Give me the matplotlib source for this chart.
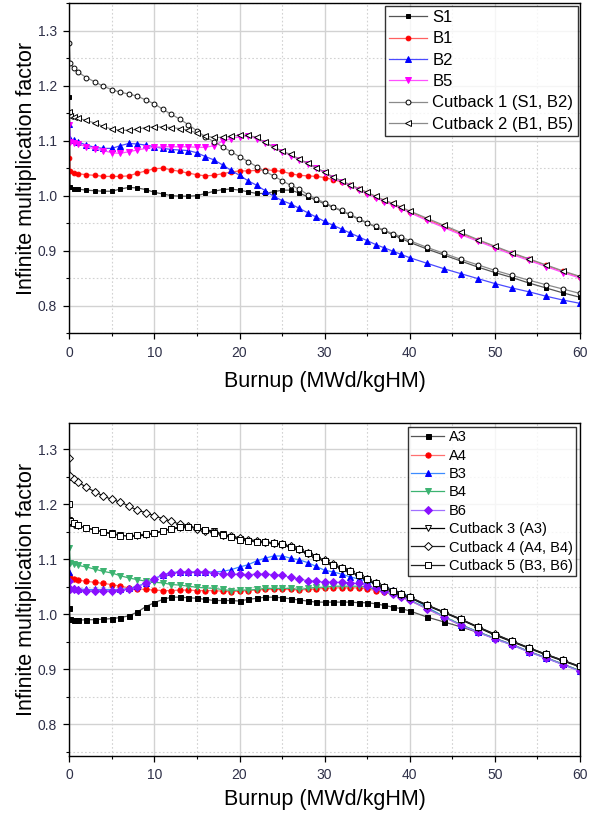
import matplotlib
matplotlib.use("Agg")
import matplotlib.pyplot as plt
from matplotlib.ticker import MultipleLocator

plt.rcParams["font.family"] = ["Liberation Sans", "DejaVu Sans"]

# burnup steps (MWd/kgHM)
burnup = [0, 0.1, 0.5, 1, 2, 3, 4, 5, 6, 7,
          8, 9, 10, 11, 12, 13, 14, 15, 16, 17,
          18, 19, 20, 21, 22, 23, 24, 25, 26, 27,
          28, 29, 30, 31, 32, 33, 34, 35, 36, 37,
          38, 39, 40, 42, 44, 46, 48, 50, 52, 54,
          56, 58, 60]

# ---- top panel ----
s1 = [1.180, 1.015, 1.013, 1.012, 1.010, 1.009, 1.008, 1.008, 1.012, 1.015,
      1.014, 1.011, 1.006, 1.003, 1.000, 0.999, 0.999, 1.000, 1.004, 1.008,
      1.011, 1.012, 1.010, 1.007, 1.004, 1.004, 1.007, 1.010, 1.010, 1.005,
      0.998, 0.992, 0.985, 0.979, 0.972, 0.965, 0.957, 0.950, 0.943, 0.936,
      0.929, 0.922, 0.915, 0.903, 0.892, 0.881, 0.870, 0.860, 0.851, 0.841,
      0.832, 0.823, 0.815]
b1 = [1.069, 1.044, 1.042, 1.040, 1.038, 1.037, 1.035, 1.035, 1.035, 1.036,
      1.041, 1.045, 1.049, 1.050, 1.047, 1.044, 1.041, 1.038, 1.036, 1.037,
      1.040, 1.043, 1.045, 1.045, 1.046, 1.047, 1.046, 1.044, 1.040, 1.037,
      1.036, 1.035, 1.033, 1.029, 1.025, 1.019, 1.013, 1.005, 0.998, 0.991,
      0.985, 0.978, 0.971, 0.957, 0.944, 0.931, 0.919, 0.907, 0.895, 0.884,
      0.873, 0.862, 0.852]
b2 = [1.131, 1.104, 1.101, 1.098, 1.092, 1.088, 1.086, 1.086, 1.091, 1.095,
      1.094, 1.092, 1.089, 1.086, 1.084, 1.083, 1.082, 1.078, 1.071, 1.065,
      1.056, 1.046, 1.037, 1.027, 1.019, 1.009, 0.999, 0.991, 0.985, 0.977,
      0.969, 0.961, 0.953, 0.946, 0.939, 0.932, 0.925, 0.918, 0.911, 0.905,
      0.899, 0.893, 0.887, 0.877, 0.867, 0.858, 0.849, 0.840, 0.832, 0.825,
      0.817, 0.810, 0.804]
b5 = [1.128, 1.098, 1.096, 1.094, 1.089, 1.085, 1.082, 1.078, 1.077, 1.080,
      1.083, 1.086, 1.088, 1.089, 1.089, 1.089, 1.089, 1.088, 1.088, 1.091,
      1.099, 1.104, 1.107, 1.108, 1.104, 1.096, 1.088, 1.080, 1.073, 1.065,
      1.058, 1.050, 1.041, 1.032, 1.025, 1.018, 1.011, 1.003, 0.996, 0.989,
      0.983, 0.976, 0.969, 0.955, 0.942, 0.929, 0.917, 0.905, 0.893, 0.882,
      0.871, 0.860, 0.850]
cutback1 = [1.277, 1.241, 1.232, 1.225, 1.215, 1.207, 1.199, 1.193, 1.188, 1.185,
            1.181, 1.174, 1.167, 1.157, 1.148, 1.139, 1.129, 1.118, 1.107, 1.098,
            1.089, 1.080, 1.071, 1.062, 1.053, 1.044, 1.036, 1.027, 1.019, 1.012,
            1.002, 0.994, 0.987, 0.980, 0.973, 0.966, 0.958, 0.951, 0.944, 0.937,
            0.931, 0.925, 0.918, 0.906, 0.895, 0.884, 0.874, 0.864, 0.855, 0.846,
            0.838, 0.830, 0.822]
cutback2 = [1.153, 1.145, 1.143, 1.141, 1.137, 1.132, 1.126, 1.121, 1.119, 1.119,
            1.121, 1.124, 1.125, 1.125, 1.124, 1.122, 1.119, 1.114, 1.108, 1.106,
            1.106, 1.108, 1.110, 1.110, 1.106, 1.097, 1.089, 1.081, 1.075, 1.067,
            1.059, 1.051, 1.043, 1.034, 1.027, 1.020, 1.013, 1.006, 0.999, 0.992,
            0.986, 0.979, 0.972, 0.959, 0.946, 0.933, 0.920, 0.908, 0.896, 0.885,
            0.874, 0.863, 0.853]

# ---- bottom panel ----
a3 = [1.012, 0.992, 0.989, 0.989, 0.990, 0.990, 0.991, 0.992, 0.994, 0.997,
      1.004, 1.014, 1.021, 1.027, 1.031, 1.031, 1.030, 1.029, 1.027, 1.025,
      1.025, 1.025, 1.024, 1.027, 1.029, 1.031, 1.031, 1.030, 1.028, 1.026,
      1.024, 1.022, 1.022, 1.022, 1.022, 1.022, 1.021, 1.021, 1.019, 1.016,
      1.013, 1.010, 1.006, 0.995, 0.986, 0.977, 0.967, 0.956, 0.945, 0.932,
      0.921, 0.909, 0.897]
a4 = [1.072, 1.066, 1.064, 1.062, 1.060, 1.058, 1.056, 1.054, 1.051, 1.048,
      1.046, 1.045, 1.044, 1.043, 1.043, 1.044, 1.044, 1.043, 1.043, 1.043,
      1.042, 1.041, 1.042, 1.043, 1.044, 1.045, 1.045, 1.045, 1.045, 1.044,
      1.045, 1.046, 1.047, 1.048, 1.048, 1.048, 1.048, 1.046, 1.043, 1.040,
      1.036, 1.031, 1.025, 1.010, 0.995, 0.980, 0.968, 0.956, 0.945, 0.932,
      0.921, 0.909, 0.897]
b3 = [1.076, 1.048, 1.047, 1.046, 1.045, 1.045, 1.045, 1.045, 1.045, 1.047,
      1.051, 1.057, 1.065, 1.072, 1.076, 1.077, 1.077, 1.077, 1.077, 1.077,
      1.078, 1.081, 1.086, 1.090, 1.097, 1.102, 1.106, 1.106, 1.102, 1.099,
      1.094, 1.087, 1.080, 1.077, 1.073, 1.068, 1.064, 1.060, 1.055, 1.050,
      1.044, 1.039, 1.032, 1.013, 0.996, 0.981, 0.968, 0.956, 0.945, 0.932,
      0.921, 0.909, 0.897]
b4 = [1.120, 1.094, 1.091, 1.089, 1.086, 1.082, 1.078, 1.075, 1.070, 1.066,
      1.063, 1.060, 1.058, 1.057, 1.054, 1.053, 1.051, 1.049, 1.048, 1.047,
      1.045, 1.043, 1.044, 1.044, 1.045, 1.047, 1.047, 1.047, 1.047, 1.045,
      1.047, 1.049, 1.049, 1.051, 1.051, 1.051, 1.051, 1.049, 1.045, 1.041,
      1.036, 1.031, 1.026, 1.011, 0.996, 0.981, 0.968, 0.956, 0.944, 0.932,
      0.920, 0.909, 0.897]
b6 = [1.060, 1.046, 1.045, 1.044, 1.043, 1.043, 1.043, 1.043, 1.044, 1.045,
      1.049, 1.057, 1.064, 1.071, 1.075, 1.076, 1.077, 1.076, 1.076, 1.075,
      1.074, 1.073, 1.073, 1.072, 1.073, 1.073, 1.072, 1.071, 1.067, 1.064,
      1.061, 1.060, 1.058, 1.058, 1.058, 1.057, 1.056, 1.052, 1.047, 1.042,
      1.036, 1.031, 1.025, 1.010, 0.995, 0.980, 0.967, 0.955, 0.944, 0.931,
      0.920, 0.908, 0.896]
cutback3 = [1.172, 1.166, 1.163, 1.161, 1.157, 1.153, 1.150, 1.147, 1.144, 1.142,
            1.142, 1.144, 1.147, 1.151, 1.155, 1.157, 1.158, 1.157, 1.154, 1.151,
            1.146, 1.141, 1.137, 1.134, 1.132, 1.131, 1.129, 1.126, 1.122, 1.116,
            1.110, 1.103, 1.096, 1.089, 1.083, 1.077, 1.070, 1.062, 1.055, 1.048,
            1.041, 1.035, 1.030, 1.016, 1.003, 0.990, 0.976, 0.962, 0.950, 0.938,
            0.926, 0.915, 0.904]
cutback4 = [1.284, 1.251, 1.246, 1.241, 1.231, 1.223, 1.215, 1.209, 1.204, 1.197,
            1.189, 1.185, 1.179, 1.174, 1.169, 1.164, 1.160, 1.156, 1.152, 1.149,
            1.145, 1.142, 1.139, 1.136, 1.134, 1.132, 1.130, 1.127, 1.124, 1.118,
            1.112, 1.105, 1.098, 1.091, 1.085, 1.078, 1.071, 1.064, 1.056, 1.049,
            1.042, 1.036, 1.031, 1.017, 1.004, 0.991, 0.977, 0.964, 0.951, 0.939,
            0.927, 0.916, 0.905]
cutback5 = [1.200, 1.170, 1.166, 1.162, 1.157, 1.154, 1.149, 1.146, 1.143, 1.143,
            1.144, 1.146, 1.148, 1.152, 1.156, 1.159, 1.159, 1.158, 1.153, 1.148,
            1.144, 1.140, 1.136, 1.134, 1.132, 1.131, 1.129, 1.127, 1.123, 1.118,
            1.111, 1.104, 1.097, 1.090, 1.084, 1.078, 1.071, 1.064, 1.057, 1.050,
            1.043, 1.036, 1.031, 1.017, 1.004, 0.991, 0.977, 0.963, 0.951, 0.939,
            0.927, 0.916, 0.905]

TICK_COLOR = "#2e3048"

# (label, data, line color, marker, marker face, marker edge, size)
top_series = [
    ("S1", s1, "#555555", "s", "black", "black", 3.4),
    ("B1", b1, "#ff6060", "o", "red", "red", 3.4),
    ("B2", b2, "#4a4aff", "^", "blue", "blue", 4.0),
    ("B5", b5, "#ff50ff", "v", "magenta", "magenta", 4.0),
    ("Cutback 1 (S1, B2)", cutback1, "#8a8a8a", "o", "white", "black", 3.5),
    ("Cutback 2 (B1, B5)", cutback2, "#8a8a8a", "<", "white", "black", 3.9),
]
bottom_series = [
    ("A3", a3, "#555555", "s", "black", "black", 3.6),
    ("A4", a4, "#ff7070", "o", "red", "red", 3.8),
    ("B3", b3, "#3c8cff", "^", "blue", "blue", 4.4),
    ("B4", b4, "#3cb371", "v", "#3cb371", "#3cb371", 4.4),
    ("B6", b6, "#a070ff", "D", "#8a10ff", "#8a10ff", 3.8),
    ("Cutback 3 (A3)", cutback3, "black", "v", "white", "black", 4.2),
    ("Cutback 4 (A4, B4)", cutback4, "#222222", "D", "white", "black", 3.6),
    ("Cutback 5 (B3, B6)", cutback5, "#222222", "s", "white", "black", 3.8),
]


def style_axes(ax, ylim, xlabelpad):
    ax.set_xlim(0, 60)
    ax.set_ylim(*ylim)
    ax.xaxis.set_major_locator(MultipleLocator(10))
    ax.xaxis.set_minor_locator(MultipleLocator(5))
    ax.yaxis.set_major_locator(MultipleLocator(0.1))
    ax.yaxis.set_minor_locator(MultipleLocator(0.05))
    ax.grid(which="major", color="#d2d2d2", linewidth=1.0)
    ax.grid(which="minor", color="#d2d2d2", linewidth=0.8, linestyle=(0, (1.5, 2)))
    ax.set_axisbelow(True)
    ax.tick_params(which="major", direction="out", length=4, width=0.9,
                   labelsize=10, labelcolor=TICK_COLOR, pad=5)
    ax.tick_params(which="minor", direction="out", length=2.5, width=0.8)
    for sp in ax.spines.values():
        sp.set_linewidth(1.0)
    ax.set_xlabel("Burnup (MWd/kgHM)", fontsize=15.5, labelpad=xlabelpad)
    ax.set_ylabel("Infinite multiplication factor", fontsize=15.5, labelpad=0.5)


def draw(ax, series):
    for label, vals, lc, mk, mfc, mec, ms in series:
        ax.plot(burnup, vals, color=lc, linewidth=0.9, marker=mk, markersize=ms,
                markerfacecolor=mfc, markeredgecolor=mec, markeredgewidth=0.7,
                label=label)


fig = plt.figure(figsize=(5.98, 8.14), dpi=100)

ax1 = fig.add_axes([0.1159, 0.5909, 0.854, 0.405])
draw(ax1, top_series)
style_axes(ax1, (0.75, 1.35), 8.5)
leg1 = ax1.legend(loc="upper right", fontsize=12, handlelength=2.3,
                  handletextpad=0.3, labelspacing=0.38, borderpad=0.25,
                  borderaxespad=0.15, frameon=True, fancybox=False)
leg1.get_frame().set_edgecolor("black")
leg1.get_frame().set_linewidth(1.0)

ax2 = fig.add_axes([0.1159, 0.0713, 0.854, 0.409])
draw(ax2, bottom_series)
style_axes(ax2, (0.742, 1.348), 5)
leg2 = ax2.legend(loc="upper right", fontsize=10.5, handlelength=2.3,
                  handletextpad=0.3, labelspacing=0.3, borderpad=0.2,
                  borderaxespad=0.3, frameon=True, fancybox=False)
leg2.get_frame().set_edgecolor("black")
leg2.get_frame().set_linewidth(1.0)

fig.savefig("out.png", dpi=100)
